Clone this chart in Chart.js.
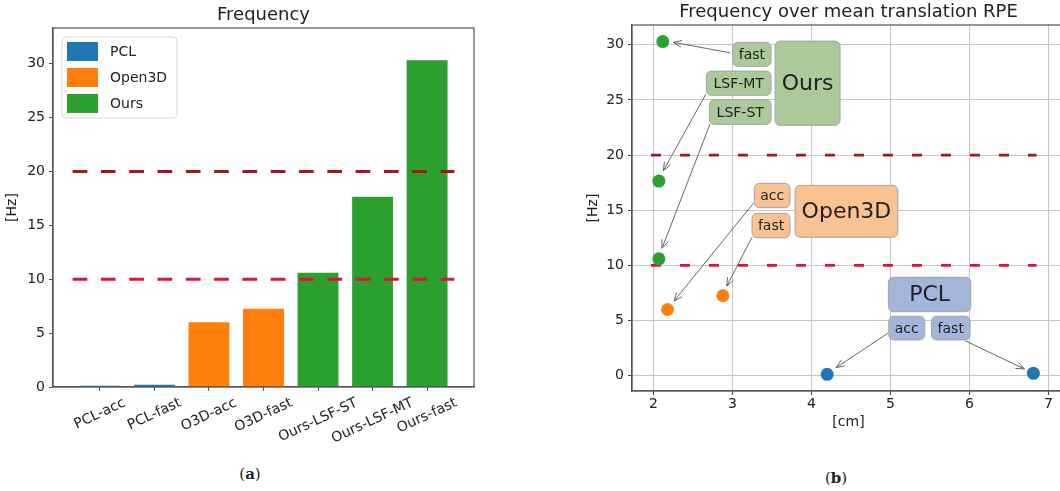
<!DOCTYPE html>
<html>
<head>
<meta charset="utf-8">
<script src="https://cdn.jsdelivr.net/npm/chart.js@4.4.1/dist/chart.umd.min.js"></script>
<style>
  html, body { margin: 0; padding: 0; width: 1060px; height: 491px; overflow: hidden; background: #fff; }
  #wrapA { position: absolute; left: 0; top: 0; width: 480px; height: 445px; }
  #wrapB { position: absolute; left: 560px; top: 0; width: 505px; height: 445px; }
  .cap { position: absolute; font-family: 'DejaVu Serif', 'Liberation Serif', serif; font-size: 15px; color: #222;
         transform: translate(-50%, -50%); white-space: nowrap; }
</style>
</head>
<body>
<div id="wrapA"><canvas id="barChart" width="480" height="445"></canvas></div>
<div id="wrapB"><canvas id="scatterChart" width="505" height="445"></canvas></div>
<div class="cap" style="left:250px;top:474px">(<b>a</b>)</div>
<div class="cap" style="left:836px;top:478px">(<b>b</b>)</div>

<script>
// runs, in the order of the bar chart
const categories = ["PCL-acc", "PCL-fast", "O3D-acc", "O3D-fast", "Ours-LSF-ST", "Ours-LSF-MT", "Ours-fast"];
const methodOfRun = ["PCL", "PCL", "Open3D", "Open3D", "Ours", "Ours", "Ours"];
const frequencyHz = [0.12, 0.21, 6.0, 7.25, 10.6, 17.65, 30.3];
const rpeCm = [4.20, 6.81, 2.18, 2.88, 2.07, 2.07, 2.12];

const methods = ["PCL", "Open3D", "Ours"];
const methodColors = ["#1f77b4", "#ff7f0e", "#2ca02c"];
const boxColors = { PCL: "#a3b6da", Open3D: "#f9c292", Ours: "#abc99b" };

const hzTicks = [0, 5, 10, 15, 20, 25, 30];
const cmTicks = [2, 3, 4, 5, 6, 7];

// real-time limits
const limitHz = [20, 10];
const limitColors = ["#9e1b1b", "#dc143c"];
const limitSpanCm = [1.97, 6.85];

const FONT = "'DejaVu Sans', 'Liberation Sans', sans-serif";
const INK = "#222";
const SPINE = "#555";

Chart.defaults.font.family = FONT;
Chart.defaults.color = INK;
Chart.defaults.animation = false;

function deg(d) { return d * Math.PI / 180; }

// ---------- (a) bar chart ----------

const barExtras = {
  id: "barExtras",
  afterDraw(chart) {
    const { ctx, chartArea: a, scales } = chart;
    ctx.save();
    // full frame
    ctx.strokeStyle = SPINE;
    ctx.lineWidth = 1.2;
    ctx.strokeRect(a.left, a.top, a.right - a.left, a.bottom - a.top);

    // rotated category labels, centered under each tick
    ctx.fillStyle = INK;
    ctx.font = "14px " + FONT;
    ctx.textAlign = "center";
    ctx.textBaseline = "middle";
    const rot = deg(25);
    categories.forEach((c, i) => {
      const w = ctx.measureText(c).width;
      const h = 16;
      const bh = w * Math.sin(rot) + h * Math.cos(rot);
      ctx.save();
      ctx.translate(scales.x.getPixelForValue(i), a.bottom + 8 + bh / 2);
      ctx.rotate(-rot);
      ctx.fillText(c, 0, 0);
      ctx.restore();
    });

    // legend box
    const lx = a.left + 9, ly = a.top + 9;
    ctx.beginPath();
    ctx.roundRect(lx, ly, 115, 81, 4);
    ctx.fillStyle = "rgba(255,255,255,0.85)";
    ctx.fill();
    ctx.strokeStyle = "#d6d6d6";
    ctx.lineWidth = 1;
    ctx.stroke();
    chart.data.datasets.filter(d => d.type === "bar").forEach((d, k) => {
      const ry = ly + 5 + k * 26;
      ctx.fillStyle = d.backgroundColor;
      ctx.fillRect(lx + 5, ry, 31, 19);
      ctx.fillStyle = INK;
      ctx.textAlign = "left";
      ctx.fillText(d.label, lx + 48, ry + 10);
    });
    ctx.restore();
  }
};

const barDatasets = methods.map((m, k) => ({
  type: "bar",
  label: m,
  backgroundColor: methodColors[k],
  data: categories.map((c, i) => ({ x: i, y: frequencyHz[i] })).filter((p, i) => methodOfRun[i] === m),
  grouped: false,
  categoryPercentage: 1,
  barPercentage: 0.75,
  order: 2
}));

const barLimits = limitHz.map((v, k) => ({
  type: "line",
  label: "limit " + v,
  data: [{ x: -0.5, y: v }, { x: categories.length - 0.5, y: v }],
  borderColor: limitColors[k],
  borderWidth: 3,
  borderDash: [14.7, 13.6],
  pointRadius: 0,
  fill: false,
  order: 0
}));

new Chart(document.getElementById("barChart"), {
  type: "bar",
  data: { datasets: [...barDatasets, ...barLimits] },
  plugins: [barExtras],
  options: {
    responsive: false,
    layout: { autoPadding: false, padding: { left: 0, right: 6, top: 0, bottom: 0 } },
    plugins: {
      legend: { display: false },
      tooltip: { enabled: false },
      title: {
        display: true, text: "Frequency", color: INK, fullSize: false,
        font: { size: 18, weight: "normal" },
        padding: { top: 5, bottom: 1.4 }
      }
    },
    scales: {
      x: {
        type: "linear", min: -0.86, max: categories.length - 1 + 0.86,
        offset: false,
        afterBuildTicks: s => { s.ticks = categories.map((c, i) => ({ value: i })); },
        ticks: { display: false },
        grid: { display: true, drawOnChartArea: false, drawTicks: true, tickLength: 4, color: SPINE, offset: false },
        border: { display: true, color: SPINE, width: 1.2 },
        afterFit: s => { s.height = 58; s.paddingLeft = 0; s.paddingRight = 0; }
      },
      y: {
        min: 0, max: 33.3,
        afterBuildTicks: s => { s.ticks = hzTicks.map(v => ({ value: v })); },
        ticks: { font: { size: 14 }, padding: 4, color: INK },
        grid: { display: true, drawOnChartArea: false, drawTicks: true, tickLength: 4, color: SPINE },
        border: { display: true, color: SPINE, width: 1.2 },
        title: { display: true, text: "[Hz]", font: { size: 14 }, color: INK, padding: { top: 3.6, bottom: 0 } },
        afterFit: s => { s.width = 53; }
      }
    }
  }
});

// ---------- (b) scatter chart ----------

// annotation boxes: [x0, x1, yTop, yBottom] in cm / Hz
const boxNotes = [
  { text: "fast",   group: "Ours",   rect: [3.005, 3.49, 30.23, 28.05], size: 14 },
  { text: "LSF-MT", group: "Ours",   rect: [2.671, 3.49, 27.62, 25.42], size: 14 },
  { text: "LSF-ST", group: "Ours",   rect: [2.709, 3.49, 25.02, 22.79], size: 14 },
  { text: "Ours",   group: "Ours",   rect: [3.541, 4.363, 30.34, 22.70], size: 22 },
  { text: "acc",    group: "Open3D", rect: [3.278, 3.73, 17.44, 15.23], size: 14 },
  { text: "fast",   group: "Open3D", rect: [3.249, 3.73, 14.72, 12.51], size: 14 },
  { text: "Open3D", group: "Open3D", rect: [3.794, 5.094, 17.26, 12.55], size: 22 },
  { text: "PCL",    group: "PCL",    rect: [4.975, 6.018, 8.92, 5.80], size: 22 },
  { text: "acc",    group: "PCL",    rect: [4.98, 5.435, 5.39, 3.24], size: 14 },
  { text: "fast",   group: "PCL",    rect: [5.519, 6.009, 5.39, 3.24], size: 14 }
];

// arrows from label to point: [fromX, fromY, toX, toY]
const arrowNotes = [
  [2.970, 29.28, 2.253, 30.23],
  [2.663, 25.51, 2.127, 18.59],
  [2.718, 22.82, 2.110, 11.55],
  [3.266, 15.63, 2.262, 6.77],
  [3.249, 12.55, 2.929, 8.13],
  [4.967, 3.84, 4.313, 0.73],
  [5.946, 3.17, 6.696, 0.61]
];

const scatterExtras = {
  id: "scatterExtras",
  afterDraw(chart) {
    const { ctx, chartArea: a, scales } = chart;
    const px = v => scales.x.getPixelForValue(v);
    const py = v => scales.y.getPixelForValue(v);
    ctx.save();
    ctx.strokeStyle = SPINE;
    ctx.lineWidth = 1.2;
    ctx.strokeRect(a.left, a.top, a.right - a.left, a.bottom - a.top);

    // arrows
    ctx.strokeStyle = "#666";
    ctx.lineWidth = 1;
    arrowNotes.forEach(([fx, fy, tx, ty]) => {
      const x1 = px(fx), y1 = py(fy), x2 = px(tx), y2 = py(ty);
      const ang = Math.atan2(y2 - y1, x2 - x1);
      ctx.beginPath();
      ctx.moveTo(x1, y1);
      ctx.lineTo(x2, y2);
      ctx.moveTo(x2 - 9 * Math.cos(ang - deg(22)), y2 - 9 * Math.sin(ang - deg(22)));
      ctx.lineTo(x2, y2);
      ctx.lineTo(x2 - 9 * Math.cos(ang + deg(22)), y2 - 9 * Math.sin(ang + deg(22)));
      ctx.stroke();
    });

    // boxes
    boxNotes.forEach(n => {
      const [x0, x1, yt, yb] = n.rect;
      const l = px(x0), r = px(x1), t = py(yt), b = py(yb);
      ctx.beginPath();
      ctx.roundRect(l, t, r - l, b - t, 5);
      ctx.fillStyle = boxColors[n.group];
      ctx.fill();
      ctx.strokeStyle = "#a5a5a5";
      ctx.lineWidth = 1;
      ctx.stroke();
      ctx.fillStyle = INK;
      ctx.font = n.size + "px " + FONT;
      ctx.textAlign = "center";
      ctx.textBaseline = "middle";
      ctx.fillText(n.text, (l + r) / 2, (t + b) / 2 + 1);
    });
    ctx.restore();
  }
};

const pointDatasets = methods.map((m, k) => ({
  type: "scatter",
  label: m,
  data: rpeCm.map((x, i) => ({ x: x, y: frequencyHz[i] })).filter((p, i) => methodOfRun[i] === m),
  backgroundColor: methodColors[k],
  borderWidth: 0,
  pointRadius: 6.5,
  order: 1
}));

const pointLimits = limitHz.map((v, k) => ({
  type: "line",
  label: "limit " + v,
  data: [{ x: limitSpanCm[0], y: v }, { x: limitSpanCm[1], y: v }],
  borderColor: limitColors[k],
  borderWidth: 2.6,
  borderDash: [10, 19],
  pointRadius: 0,
  showLine: true,
  fill: false,
  order: 2
}));

new Chart(document.getElementById("scatterChart"), {
  type: "scatter",
  data: { datasets: [...pointDatasets, ...pointLimits] },
  plugins: [scatterExtras],
  options: {
    responsive: false,
    layout: { autoPadding: false, padding: 0 },
    plugins: {
      legend: { display: false },
      tooltip: { enabled: false },
      title: {
        display: true, text: "Frequency over mean translation RPE", color: INK, fullSize: false,
        font: { size: 18, weight: "normal" },
        padding: { top: 2, bottom: 1.4 }
      }
    },
    scales: {
      x: {
        type: "linear", min: 1.73, max: 7.21,
        afterBuildTicks: s => { s.ticks = cmTicks.map(v => ({ value: v })); },
        ticks: { font: { size: 14 }, padding: 1, color: INK },
        grid: { color: "#c6c6c6", lineWidth: 1, tickLength: 4, tickColor: "#444" },
        border: { display: true, color: SPINE, width: 1.2 },
        title: { display: true, text: "[cm]", font: { size: 14 }, color: INK, padding: { top: 0, bottom: 14 } },
        afterFit: s => { s.height = 54; s.paddingLeft = 0; s.paddingRight = 0; }
      },
      y: {
        min: -1.39, max: 31.8,
        afterBuildTicks: s => { s.ticks = hzTicks.map(v => ({ value: v })); },
        ticks: { font: { size: 14 }, padding: 4, color: INK },
        grid: { color: "#c6c6c6", lineWidth: 1, tickLength: 4, tickColor: "#444" },
        border: { display: true, color: SPINE, width: 1.2 },
        title: { display: true, text: "[Hz]", font: { size: 14 }, color: INK, padding: { top: 24.6, bottom: 0 } },
        afterFit: s => { s.width = 72; }
      }
    }
  }
});
</script>
</body>
</html>
